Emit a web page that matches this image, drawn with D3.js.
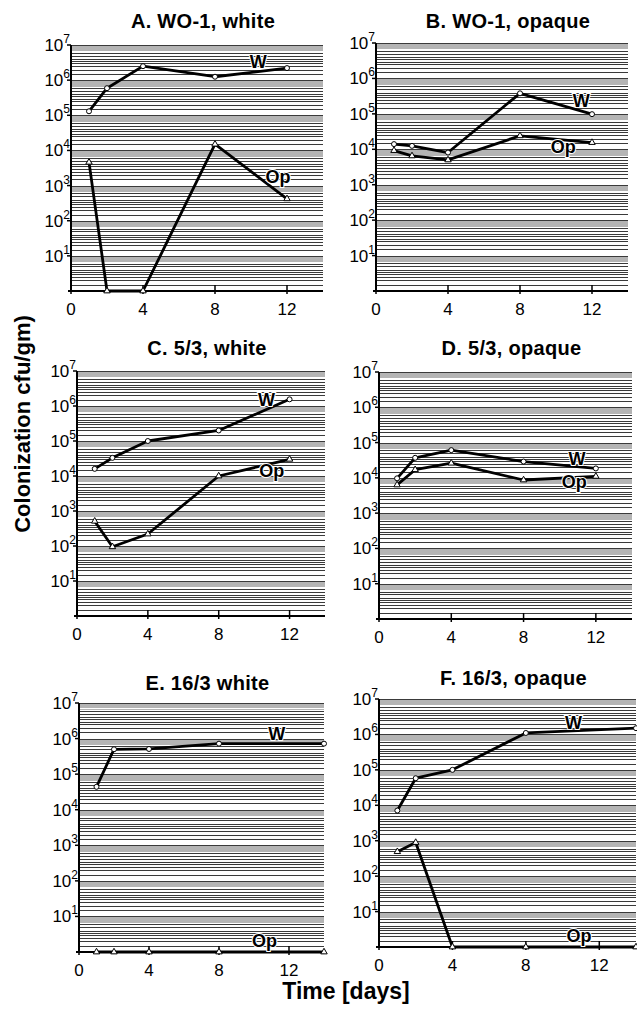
<!DOCTYPE html>
<html>
<head>
<meta charset="utf-8">
<script src="https://cdn.jsdelivr.net/npm/d3@7"></script>
<style>
  body { margin: 0; background: #fff; }
  svg { display: block; font-family: "Liberation Sans", Arial, Helvetica, sans-serif; }
</style>
</head>
<body>
<div id="chart"></div>
<script>
// Days sampled (A-D end on day 12, E-F on day 14)
const daysShort = [1, 2, 4, 8, 12];
const daysLong = [1, 2, 4, 8, 14];

// Colonization (cfu/gm); 0 = none recovered, drawn on the bottom axis
const whiteA = [1.3e5, 5.9e5, 2.5e6, 1.25e6, 2.2e6];
const opaqueA = [4.6e3, 0, 0, 1.5e4, 4.2e2];
const whiteB = [1.4e4, 1.25e4, 8.1e3, 3.8e5, 9.8e4];
const opaqueB = [9.2e3, 6.5e3, 5.0e3, 2.4e4, 1.55e4];
const whiteC = [1.6e4, 3.3e4, 1.0e5, 2.0e5, 1.55e6];
const opaqueC = [5.1e2, 95, 2.2e2, 1.0e4, 3.0e4];
const whiteD = [9.7e3, 3.7e4, 6.1e4, 2.9e4, 1.85e4];
const opaqueD = [6.3e3, 1.7e4, 2.6e4, 8.7e3, 1.1e4];
const whiteE = [4.4e4, 5.0e5, 5.1e5, 7.2e5, 7.2e5];
const opaqueE = [0, 0, 0, 0, 0];
const whiteF = [7.1e3, 5.8e4, 1.0e5, 1.1e6, 1.5e6];
const opaqueF = [4.9e2, 8.9e2, 0, 0, 0];

const titles = ["A. WO-1, white", "B. WO-1, opaque", "C. 5/3, white",
                "D. 5/3, opaque", "E. 16/3 white", "F. 16/3, opaque"];
const xTicks = [0, 4, 8, 12];
const yExponents = [1, 2, 3, 4, 5, 6, 7];

// log-paper rulings inside each decade: dark lines, then the tight pale band below each power of ten
const darkMantissas = [1, 1.5, 2, 2.5, 3, 3.5, 4, 5, 6];
const paleMantissas = [7, 7.5, 8, 8.5, 9, 9.5];

const width = 637, height = 1020;

// panel frames (axis origin, day-14 end, top and bottom of log axis)
const panels = [
  { title: titles[0], days: daysShort, w: whiteA, op: opaqueA, x0: 71, x1: 323, top: 45, bot: 291, ty: 28,
    wLab: [10.4, 6.35], opLab: [11.5, 3.07] },
  { title: titles[1], days: daysShort, w: whiteB, op: opaqueB, x0: 376, x1: 628, top: 43, bot: 291, ty: 28,
    wLab: [11.4, 5.2], opLab: [10.4, 3.9] },
  { title: titles[2], days: daysShort, w: whiteC, op: opaqueC, x0: 77, x1: 325, top: 371, bot: 616, ty: 355,
    wLab: [10.7, 6.0], opLab: [11.0, 3.97] },
  { title: titles[3], days: daysShort, w: whiteD, op: opaqueD, x0: 379, x1: 632, top: 372, bot: 619, ty: 355,
    wLab: [10.96, 4.36], opLab: [10.8, 3.71] },
  { title: titles[4], days: daysLong, w: whiteE, op: opaqueE, x0: 79, x1: 324, top: 703, bot: 952, ty: 690,
    wLab: [11.3, 5.96], opLab: [10.6, 0.14] },
  { title: titles[5], days: daysLong, w: whiteF, op: opaqueF, x0: 379, x1: 636, top: 699, bot: 947, ty: 685,
    wLab: [10.6, 6.16], opLab: [10.9, 0.14] }
];

const svg = d3.select("#chart").append("svg")
    .attr("width", width)
    .attr("height", height);

const gridVals = [];
for (let k = 0; k < 7; k++) {
  darkMantissas.forEach(m => {
    if (!(k === 0 && m === 1)) gridVals.push({ v: m * Math.pow(10, k), dark: true });
  });
  paleMantissas.forEach(m => gridVals.push({ v: m * Math.pow(10, k), dark: false }));
}
gridVals.push({ v: 1e7, dark: true });

const tri = d3.symbol().type(d3.symbolTriangle).size(18);

panels.forEach(p => {
  const x = d3.scaleLinear().domain([0, 14]).range([p.x0, p.x1]);
  const y = d3.scaleLog().domain([1, 1e7]).range([p.bot, p.top]);
  const yv = v => y(Math.max(v, 1));
  const g = svg.append("g");

  // title
  g.append("text")
      .attr("x", (p.x0 + p.x1) / 2 + 6)
      .attr("y", p.ty)
      .attr("text-anchor", "middle")
      .attr("font-size", 20)
      .attr("font-weight", "bold")
      .attr("letter-spacing", 0.3)
      .text(p.title);

  // rulings
  g.selectAll("line.grid")
    .data(gridVals)
    .join("line")
      .attr("class", "grid")
      .attr("x1", p.x0)
      .attr("x2", p.x1)
      .attr("y1", d => Math.round(y(d.v)) + 0.5)
      .attr("y2", d => Math.round(y(d.v)) + 0.5)
      .attr("stroke", d => d.dark ? "#3a3a3a" : "#b4b4b4")
      .attr("stroke-width", 1);

  // y axis
  g.append("line")
      .attr("x1", p.x0).attr("x2", p.x0)
      .attr("y1", p.top).attr("y2", p.bot)
      .attr("stroke", "#000").attr("stroke-width", 2);
  g.selectAll("line.ytick")
    .data(yExponents)
    .join("line")
      .attr("class", "ytick")
      .attr("x1", p.x0 - 4).attr("x2", p.x0)
      .attr("y1", d => y(Math.pow(10, d))).attr("y2", d => y(Math.pow(10, d)))
      .attr("stroke", "#000").attr("stroke-width", 1.5);
  const yl = g.selectAll("text.ylab")
    .data(yExponents)
    .join("text")
      .attr("class", "ylab")
      .attr("x", p.x0 - 1)
      .attr("y", d => y(Math.pow(10, d)) + 6)
      .attr("text-anchor", "end")
      .attr("font-size", 17);
  yl.append("tspan").text("10");
  yl.append("tspan").attr("dy", -8).attr("font-size", 12).text(d => d);

  // x axis
  g.append("line")
      .attr("x1", p.x0 - 3).attr("x2", p.x1)
      .attr("y1", p.bot).attr("y2", p.bot)
      .attr("stroke", "#000").attr("stroke-width", 2);
  g.selectAll("line.xtick")
    .data(xTicks)
    .join("line")
      .attr("class", "xtick")
      .attr("x1", d => x(d)).attr("x2", d => x(d))
      .attr("y1", p.bot - 6).attr("y2", p.bot + 3)
      .attr("stroke", "#000").attr("stroke-width", 1.5);
  g.selectAll("text.xlab")
    .data(xTicks)
    .join("text")
      .attr("class", "xlab")
      .attr("x", d => x(d))
      .attr("y", p.bot + 24)
      .attr("text-anchor", "middle")
      .attr("font-size", 17)
      .text(d => d);

  // series lines
  const line = d3.line().x(d => x(d[0])).y(d => yv(d[1]));
  const wPts = p.days.map((d, i) => [d, p.w[i]]);
  const opPts = p.days.map((d, i) => [d, p.op[i]]);
  [opPts, wPts].forEach(pts => {
    g.append("path")
        .attr("d", line(pts))
        .attr("fill", "none")
        .attr("stroke", "#000")
        .attr("stroke-width", 2.8)
        .attr("stroke-linejoin", "round");
  });

  // markers: open circles for white, open triangles for opaque
  g.selectAll("path.op")
    .data(opPts)
    .join("path")
      .attr("class", "op")
      .attr("d", tri)
      .attr("transform", d => `translate(${x(d[0])},${yv(d[1])})`)
      .attr("fill", "#fff").attr("stroke", "#000").attr("stroke-width", 1);
  g.selectAll("circle.w")
    .data(wPts)
    .join("circle")
      .attr("class", "w")
      .attr("cx", d => x(d[0])).attr("cy", d => yv(d[1]))
      .attr("r", 2.5)
      .attr("fill", "#fff").attr("stroke", "#000").attr("stroke-width", 1);

  // series labels
  [[p.wLab, "W"], [p.opLab, "Op"]].forEach(([pos, txt]) => {
    g.append("text")
        .attr("x", x(pos[0]))
        .attr("y", y(Math.pow(10, pos[1])))
        .attr("text-anchor", "middle")
        .attr("font-size", 18)
        .attr("font-weight", "bold")
        .attr("stroke", "#fff").attr("stroke-width", 2).attr("paint-order", "stroke")
        .text(txt);
  });
});

// shared axis titles
svg.append("text")
    .attr("transform", "translate(30,424) rotate(-90)")
    .attr("text-anchor", "middle")
    .attr("font-size", 22)
    .attr("font-weight", "bold")
    .text("Colonization cfu/gm)");

svg.append("text")
    .attr("x", 346)
    .attr("y", 999)
    .attr("text-anchor", "middle")
    .attr("font-size", 23)
    .attr("font-weight", "bold")
    .text("Time [days]");
</script>
</body>
</html>
